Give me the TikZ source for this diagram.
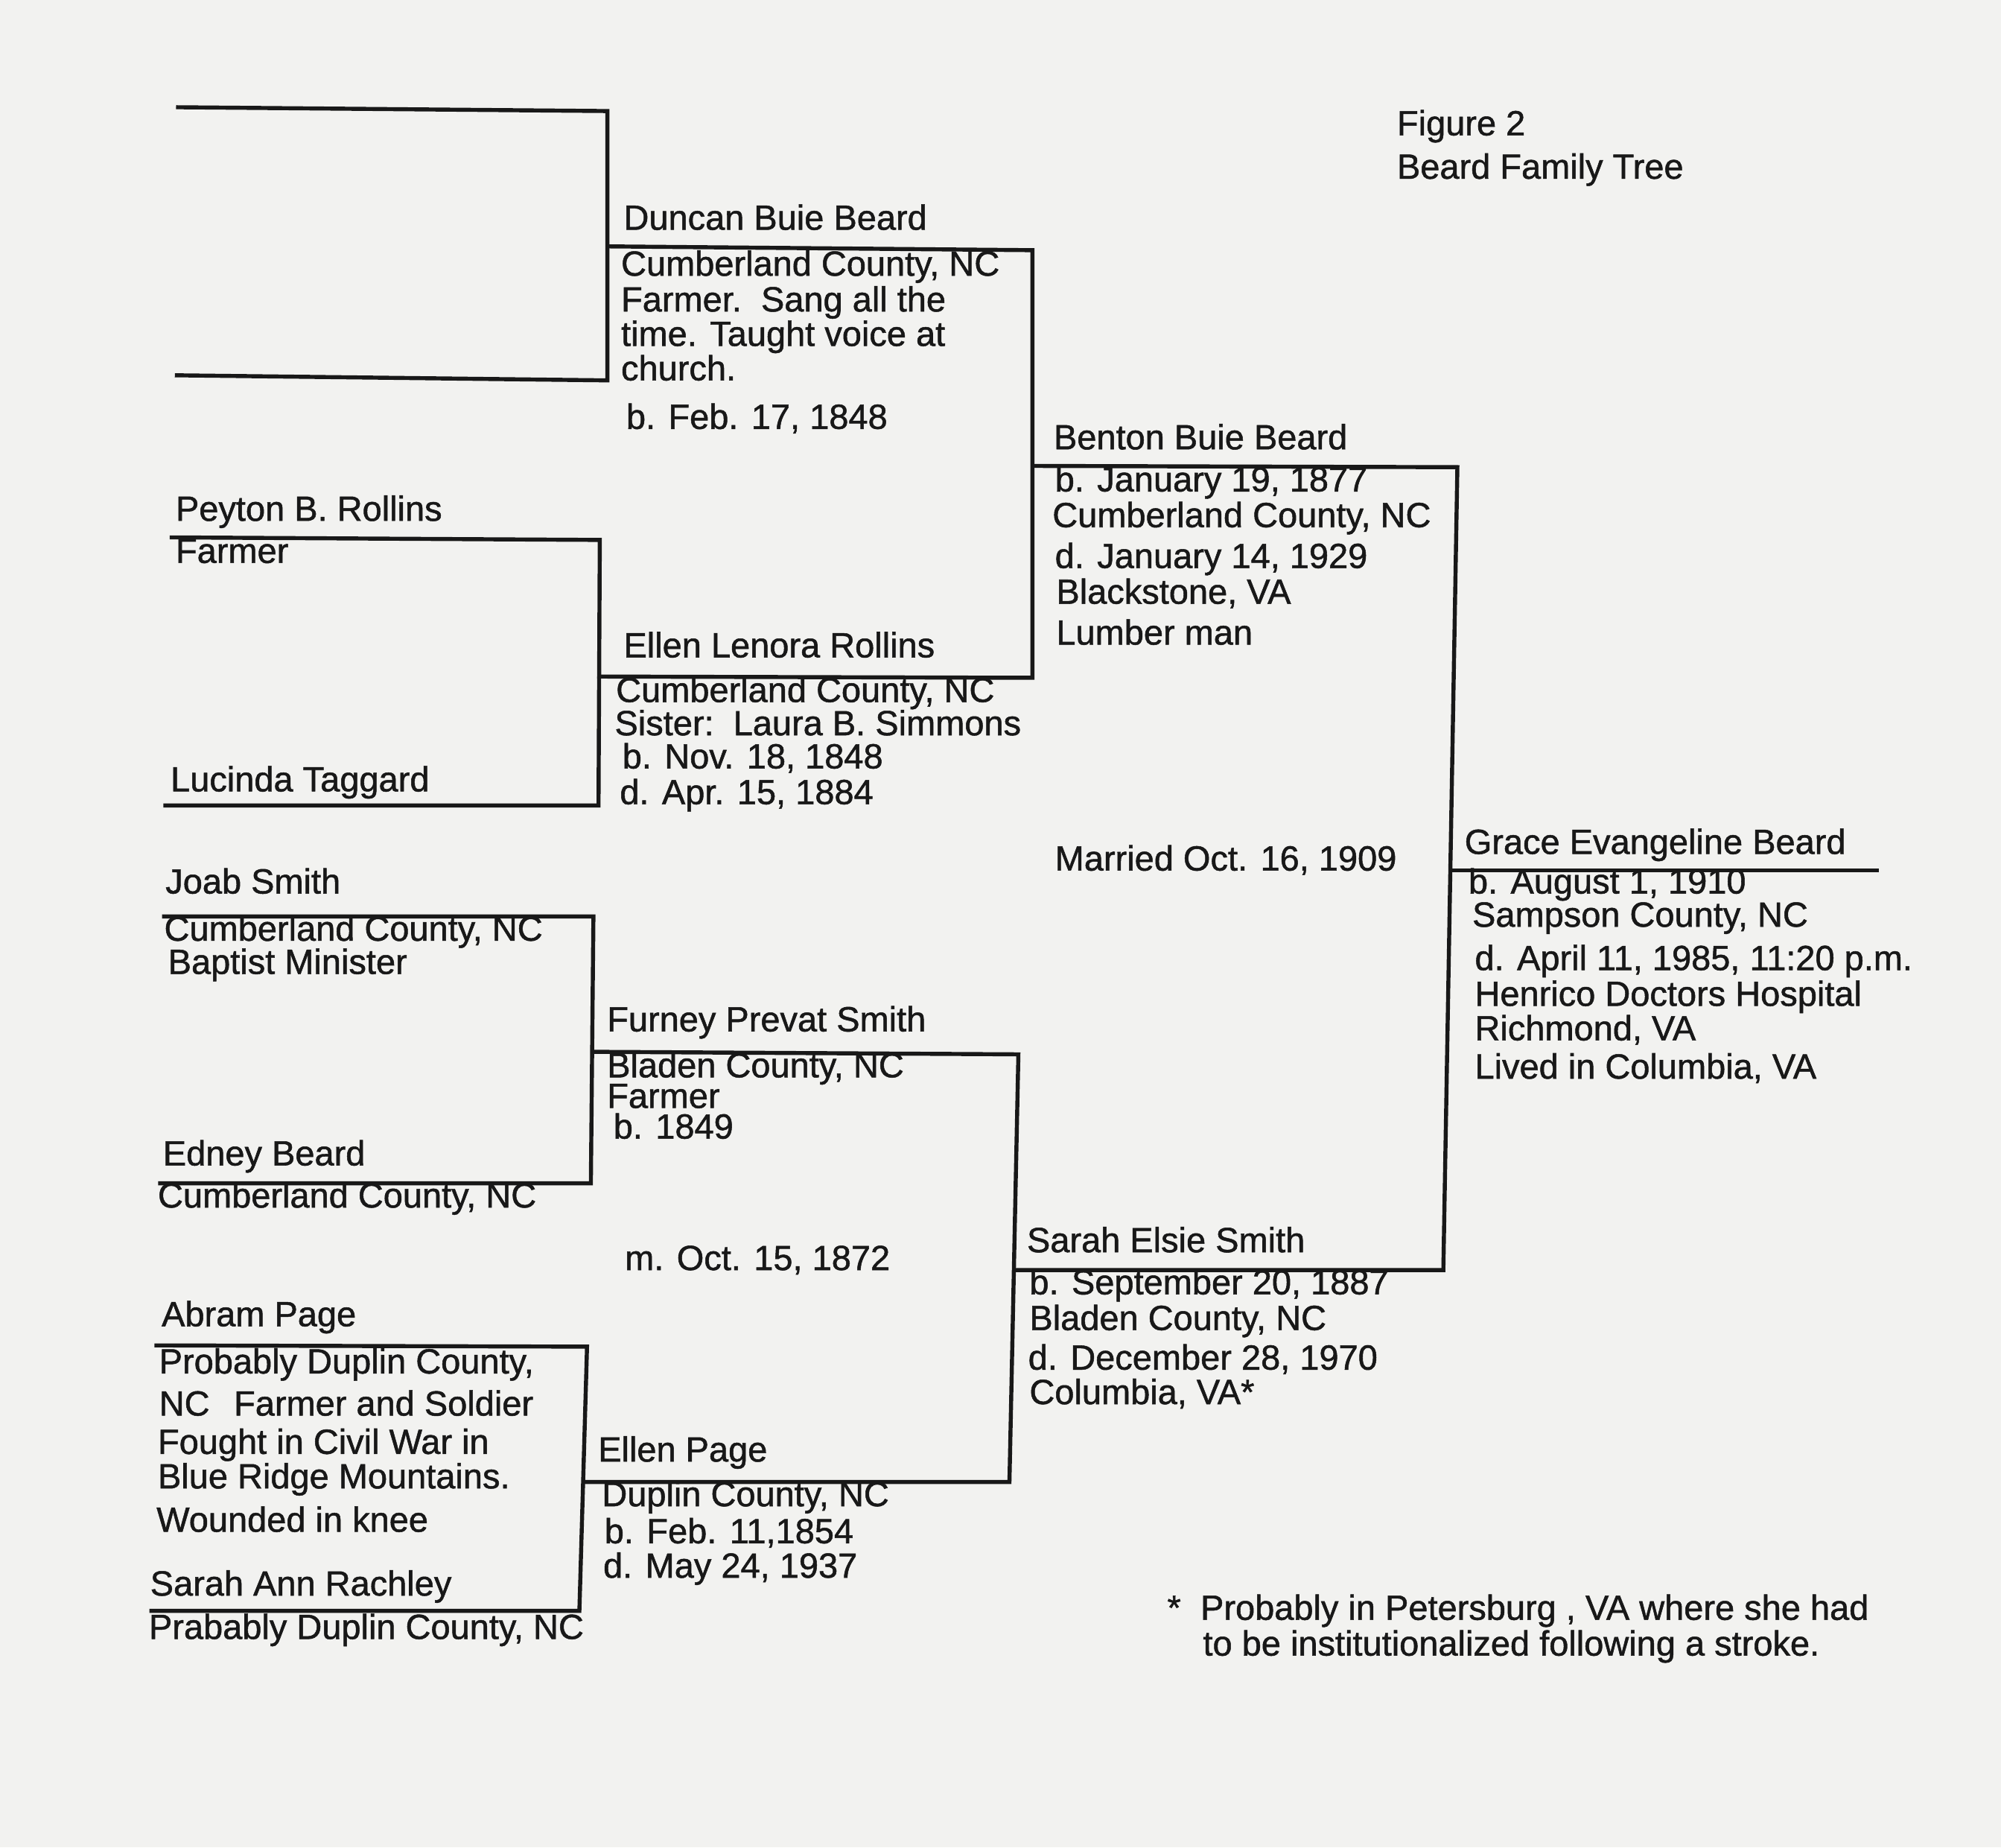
\documentclass[tikz,border=0pt]{standalone}
\usepackage{fontspec}
\setmainfont{Liberation Sans}[FakeBold=1.1]
\definecolor{papier}{RGB}{242,242,240}
\definecolor{encre}{RGB}{24,24,24}

\begin{document}
\begin{tikzpicture}
    \tikzstyle{trait}=[encre,line width=0.9pt,line join=miter]
    \tikzstyle{txt}=[anchor=base west,inner sep=0pt,text=encre,font=\fontsize{7.8}{9}\selectfont]
  \useasboundingbox (0,0) rectangle (15.68,-14.472);
  \fill[papier] (0,0) rectangle (15.68,-14.472);
  % brackets
  \draw[trait] (1.38,-0.84) -- (4.76,-0.87) -- (4.76,-2.98) -- (1.37,-2.94);
  \draw[trait] (4.75,-1.93) -- (8.09,-1.96) -- (8.09,-5.31) -- (4.68,-5.30);
  \draw[trait] (1.33,-4.21) -- (4.70,-4.23) -- (4.69,-6.31) -- (1.28,-6.31);
  \draw[trait] (8.08,-3.65) -- (11.42,-3.66) -- (11.31,-9.95) -- (7.95,-9.95);
  \draw[trait] (11.37,-6.82) -- (14.72,-6.82);
  \draw[trait] (1.27,-7.18) -- (4.65,-7.18) -- (4.63,-9.27) -- (1.24,-9.27);
  \draw[trait] (4.64,-8.24) -- (7.98,-8.26) -- (7.91,-11.61) -- (4.56,-11.61);
  \draw[trait] (1.21,-10.54) -- (4.60,-10.55) -- (4.54,-12.62) -- (1.17,-12.62);
  % title
  \node[txt] (fig) at (10.94,-1.06) {Figure 2};
  \node[txt] (titre) at (10.94,-1.40) {Beard Family Tree};
  % names
  \node[txt] (duncan) at (4.88,-1.80) {Duncan Buie Beard};
  \node[txt] (benton) at (8.25,-3.52) {Benton Buie Beard};
  \node[txt] (peyton) at (1.37,-4.08) {Peyton B. Rollins};
  \node[txt] (ellenr) at (4.88,-5.15) {Ellen Lenora Rollins};
  \node[txt] (lucinda) at (1.33,-6.20) {Lucinda Taggard};
  \node[txt] (grace) at (11.47,-6.69) {Grace Evangeline Beard};
  \node[txt] (joab) at (1.29,-7.00) {Joab Smith};
  \node[txt] (furney) at (4.75,-8.08) {Furney Prevat Smith};
  \node[txt] (edney) at (1.27,-9.13) {Edney Beard};
  \node[txt] (sarahe) at (8.04,-9.81) {Sarah Elsie Smith};
  \node[txt] (abram) at (1.26,-10.39) {Abram Page};
  \node[txt] (ellenp) at (4.68,-11.45) {Ellen Page};
  \node[txt] (saraha) at (1.17,-12.50) {Sarah Ann Rachley};
  % details
  \foreach \x/\y/\t [count=\i] in {4.86/2.16/{Cumberland County, NC},4.86/2.44/{Farmer.\ \ Sang all the},
      4.86/2.71/{time. Taught voice at},4.86/2.98/{church.},4.90/3.36/{b. Feb. 17, 1848}}
    \node[txt] (duncan-\i) at (\x,-\y) {\t};
  \foreach \x/\y/\t [count=\i] in {8.26/3.85/{b. January 19, 1877},8.24/4.13/{Cumberland County, NC},
      8.26/4.45/{d. January 14, 1929},8.27/4.73/{Blackstone, VA},8.27/5.05/{Lumber man}}
    \node[txt] (benton-\i) at (\x,-\y) {\t};
  \node[txt] (peyton-1) at (1.37,-4.41) {Farmer};
  \foreach \x/\y/\t [count=\i] in {4.82/5.50/{Cumberland County, NC},4.81/5.76/{Sister:\ \ Laura B. Simmons},
      4.87/6.02/{b. Nov. 18, 1848},4.85/6.30/{d. Apr. 15, 1884}}
    \node[txt] (ellenr-\i) at (\x,-\y) {\t};
  \node[txt] (mariage1) at (8.26,-6.82) {Married Oct. 16, 1909};
  \foreach \x/\y/\t [count=\i] in {11.50/7.00/{b. August 1, 1910},11.53/7.26/{Sampson County, NC},
      11.55/7.60/{d. April 11, 1985, 11:20 p.m.},11.55/7.88/{Henrico Doctors Hospital},
      11.55/8.15/{Richmond, VA},11.55/8.45/{Lived in Columbia, VA}}
    \node[txt] (grace-\i) at (\x,-\y) {\t};
  \node[txt] (joab-1) at (1.28,-7.37) {Cumberland County, NC};
  \node[txt] (joab-2) at (1.31,-7.63) {Baptist Minister};
  \foreach \x/\y/\t [count=\i] in {4.75/8.44/{Bladen County, NC},4.75/8.68/{Farmer},4.80/8.92/{b. 1849}}
    \node[txt] (furney-\i) at (\x,-\y) {\t};
  \node[txt] (edney-1) at (1.23,-9.46) {Cumberland County, NC};
  \node[txt] (mariage2) at (4.89,-9.95) {m. Oct. 15, 1872};
  \foreach \x/\y/\t [count=\i] in {8.06/10.14/{b. September 20, 1887},8.06/10.42/{Bladen County, NC},
      8.05/10.73/{d. December 28, 1970},8.06/11.00/{Columbia, VA*}}
    \node[txt] (sarahe-\i) at (\x,-\y) {\t};
  \foreach \x/\y/\t [count=\i] in {1.24/10.76/{Probably Duplin County,},1.24/11.09/{NC\hspace{0.19cm}Farmer and Soldier},
      1.23/11.39/{Fought in Civil War in},1.23/11.66/{Blue Ridge Mountains.},1.22/12.00/{Wounded in knee}}
    \node[txt] (abram-\i) at (\x,-\y) {\t};
  \foreach \x/\y/\t [count=\i] in {4.71/11.80/{Duplin County, NC},4.73/12.09/{b. Feb. 11,1854},4.72/12.36/{d. May 24, 1937}}
    \node[txt] (ellenp-\i) at (\x,-\y) {\t};
  \node[txt] (saraha-1) at (1.16,-12.84) {Prabably Duplin County, NC};
  % footnote
  \node[txt] (etoile) at (9.14,-12.69) {*};
  \node[txt] (note-1) at (9.40,-12.69) {Probably in Petersburg , VA where she had};
  \node[txt] (note-2) at (9.42,-12.97) {to be institutionalized following a stroke.};
\end{tikzpicture}
\end{document}
